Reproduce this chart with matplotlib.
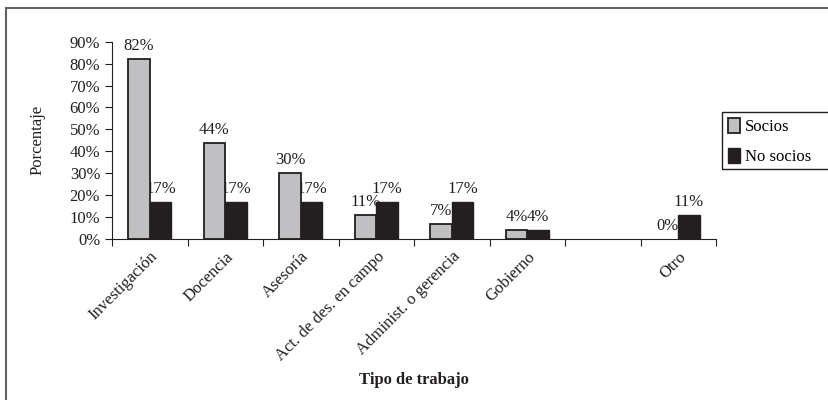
import matplotlib.pyplot as plt
from matplotlib.patches import Rectangle
import numpy as np

plt.rcParams['font.family'] = ['Liberation Serif', 'DejaVu Serif']

# Data
categories = ['Investigación', 'Docencia', 'Asesoría', 'Act. de des. en campo',
              'Administ. o gerencia', 'Gobierno', '', 'Otro']
socios = [82, 44, 30, 11, 7, 4, None, 0]
no_socios = [17, 17, 17, 17, 17, 4, None, 11]
yticks = [0, 10, 20, 30, 40, 50, 60, 70, 80, 90]

W, H = 829, 400
fs = 12
dark = '#231f20'

fig = plt.figure(figsize=(W / 100, H / 100), dpi=100)

# outer frame (runs off the right and bottom edges)
fig.patches.append(Rectangle((6 / W, -0.1), 1.0, 1 - 7.5 / H + 0.1,
                             transform=fig.transFigure, fill=False,
                             edgecolor='#606060', linewidth=1.5))

ax = fig.add_axes([112 / W, 1 - 239 / H, (716 - 112) / W, (239 - 41.7) / H])

x = np.arange(len(categories))
w = 0.285

for i in range(len(categories)):
    if socios[i] is not None:
        ax.bar(x[i] - w / 2, socios[i], w, color='#c0c0c2', edgecolor=dark,
               linewidth=1.3 if socios[i] > 0 else 0, zorder=3,
               label='Socios' if i == 0 else None)
        ax.text(x[i] - w / 2, socios[i] + 2.3, f'{socios[i]}%', ha='center',
                va='bottom', fontsize=fs, color=dark, zorder=2)
    if no_socios[i] is not None:
        ax.bar(x[i] + w / 2, no_socios[i], w, color=dark, edgecolor=dark,
               linewidth=1.0, zorder=3, label='No socios' if i == 0 else None)
        ax.text(x[i] + w / 2, no_socios[i] + 2.3, f'{no_socios[i]}%', ha='center',
                va='bottom', fontsize=fs, color=dark, zorder=2)

ax.set_xlim(-0.5, len(categories) - 0.5)
ax.set_ylim(0, 90)
ax.set_yticks(yticks)
ax.set_yticklabels([f'{t}%' for t in yticks], fontsize=fs, color=dark)
ax.set_xticks(np.arange(len(categories) + 1) - 0.5)
ax.set_xticklabels([])
ax.set_xticks(x, minor=True)
ax.set_xticklabels(categories, minor=True, rotation=45, ha='right',
                   rotation_mode='anchor', fontsize=fs, color=dark)
ax.tick_params(axis='x', which='minor', length=0, pad=7)
ax.tick_params(axis='x', which='major', length=5, direction='out', color=dark)
ax.tick_params(axis='y', length=5, direction='out', color=dark)

for side in ['top', 'right']:
    ax.spines[side].set_visible(False)
for side in ['left', 'bottom']:
    ax.spines[side].set_color(dark)

ax.set_ylabel('Porcentaje', fontsize=fs, color=dark, labelpad=17)
fig.text(414 / W, 1 - 380 / H, 'Tipo de trabajo',
         ha='center', va='center', fontsize=fs, fontweight='bold', color=dark)

# legend box runs off the right edge
fig.patches.append(Rectangle((722 / W, 1 - 169 / H), 0.2, (169 - 111.5) / H,
                             transform=fig.transFigure, fill=False,
                             edgecolor=dark, linewidth=1.0))
leg = fig.legend(loc='upper left', bbox_to_anchor=(723 / W, 1 - 113 / H),
                 frameon=False, fontsize=fs, handlelength=0.75,
                 handleheight=1.0, handletextpad=0.25, borderpad=0.3,
                 labelspacing=0.75, borderaxespad=0)

fig.savefig('out.png', dpi=100)
